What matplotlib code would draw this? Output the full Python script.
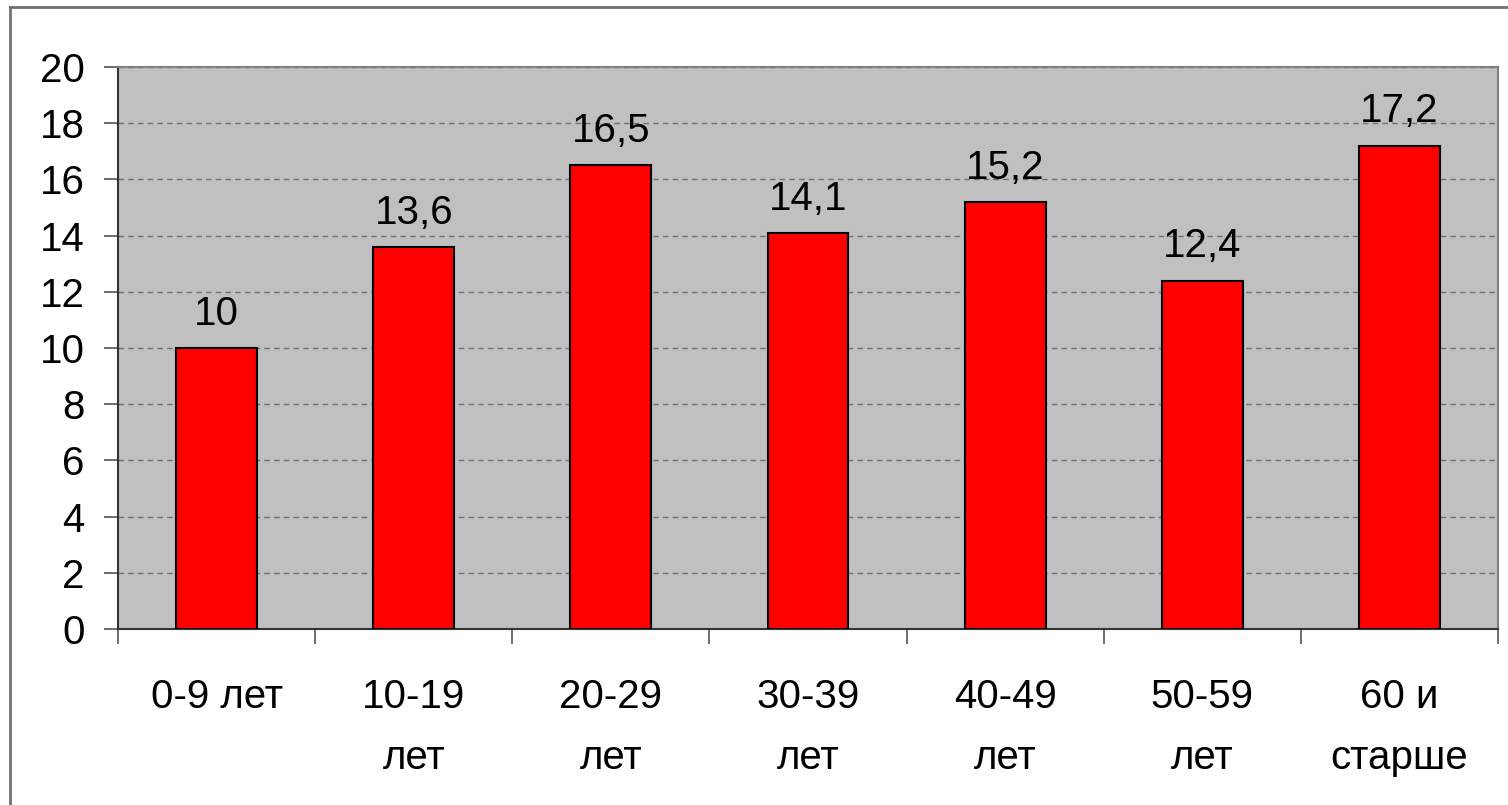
import matplotlib.pyplot as plt
from matplotlib.lines import Line2D

# Данные
categories = ['0-9 лет', '10-19\nлет', '20-29\nлет', '30-39\nлет', '40-49\nлет', '50-59\nлет', '60 и\nстарше']
values = [10, 13.6, 16.5, 14.1, 15.2, 12.4, 17.2]
value_labels = ['10', '13,6', '16,5', '14,1', '15,2', '12,4', '17,2']

plt.rcParams['font.family'] = ['Liberation Sans', 'DejaVu Sans']
FS = 29

fig = plt.figure(figsize=(15.08, 8.05), dpi=100)
ax = fig.add_axes([118 / 1508, 1 - 629 / 805, (1498 - 118) / 1508, (629 - 67) / 805])
ax.set_facecolor('#C0C0C0')

x = range(len(categories))
ax.bar(x, values, width=0.41, color='#FF0000', edgecolor='black', linewidth=1.5, zorder=3)

for xi, v, lab in zip(x, values, value_labels):
    ax.annotate(lab, (xi, v), xytext=(0, 11), textcoords='offset points',
                ha='center', va='bottom', fontsize=FS)

ax.set_xlim(-0.5, len(categories) - 0.5)
ax.set_ylim(0, 20)
ax.set_yticks(range(0, 21, 2))
ax.tick_params(axis='y', labelsize=FS, length=10, width=1.2, color='#555555', pad=14)
ax.yaxis.grid(True, linestyle=(0, (4, 3)), color='#707070', linewidth=1, zorder=0)
ax.set_axisbelow(True)

# разделители категорий на оси X
ax.set_xticks([i - 0.5 for i in range(len(categories) + 1)])
ax.set_xticklabels([])
ax.tick_params(axis='x', direction='out', length=11, width=1.2, color='#555555')
for xi, cat in zip(x, categories):
    ax.text(xi, -0.088, cat, transform=ax.get_xaxis_transform(), ha='center', va='top',
            fontsize=FS, linespacing=1.74)

ax.spines['left'].set_color('#333333')
ax.spines['bottom'].set_color('#333333')
ax.spines['left'].set_linewidth(1.5)
ax.spines['bottom'].set_linewidth(1.5)
ax.spines['top'].set_color('#808080')
ax.spines['right'].set_color('#808080')
ax.spines['top'].set_linewidth(1.5)
ax.spines['right'].set_linewidth(1.5)

# рамка слайда (видна только сверху и слева)
fig.add_artist(Line2D([10 / 1508, 10 / 1508], [0, 1 - 7 / 805], color='#707070', linewidth=2))
fig.add_artist(Line2D([10 / 1508, 1], [1 - 7 / 805, 1 - 7 / 805], color='#707070', linewidth=2))

fig.savefig('out.png', dpi=100)
